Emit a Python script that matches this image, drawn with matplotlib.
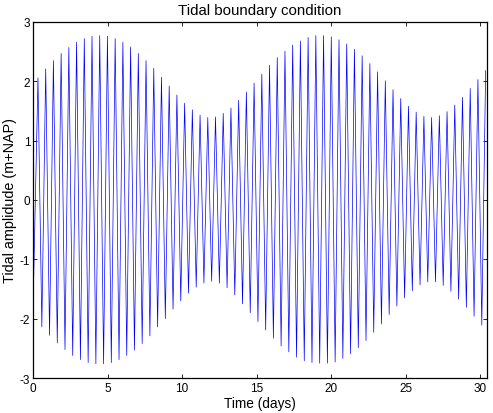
import numpy as np
import matplotlib
matplotlib.use('Agg')
import matplotlib.pyplot as plt

plt.rcParams['font.family'] = ['Liberation Sans', 'DejaVu Sans']
plt.rcParams['axes.unicode_minus'] = False

# tide levels (m+NAP)
start_day = 0.0
start_level = -1.85
first_high_day = 0.335
tidal_period_days = 0.5175

high_water = [2.06, 2.21, 2.35, 2.47, 2.57, 2.66, 2.72, 2.76, 2.77, 2.76,
              2.72, 2.66, 2.58, 2.47, 2.35, 2.22, 2.07, 1.92, 1.77, 1.63,
              1.52, 1.43, 1.39, 1.40, 1.46, 1.55, 1.68, 1.82, 1.97, 2.12,
              2.27, 2.40, 2.51, 2.61, 2.68, 2.74, 2.77, 2.77, 2.75, 2.70,
              2.63, 2.54, 2.43, 2.30, 2.16, 2.01, 1.86, 1.71, 1.58, 1.48,
              1.41, 1.39, 1.42, 1.49, 1.60, 1.73, 1.88, 2.03, 2.18]

low_water = [-2.14, -2.28, -2.41, -2.52, -2.62, -2.69, -2.74, -2.76, -2.76, -2.74,
             -2.69, -2.62, -2.53, -2.42, -2.29, -2.14, -2.00, -1.84, -1.70, -1.57,
             -1.47, -1.40, -1.37, -1.40, -1.48, -1.60, -1.75, -1.90, -2.05, -2.19,
             -2.33, -2.46, -2.56, -2.65, -2.71, -2.74, -2.75, -2.75, -2.73, -2.67,
             -2.59, -2.49, -2.37, -2.23, -2.09, -1.93, -1.79, -1.65, -1.53, -1.43,
             -1.38, -1.38, -1.44, -1.54, -1.67, -1.81, -1.96, -2.11]

x_ticks = [0, 5, 10, 15, 20, 25, 30]
y_ticks = [-3, -2, -1, 0, 1, 2, 3]


def build_series():
  highs = np.array(high_water)
  lows = np.array(low_water)
  t_high = first_high_day + tidal_period_days * np.arange(len(highs))
  t_low = t_high[:len(lows)] + tidal_period_days / 2
  t = np.empty(len(highs) + len(lows))
  h = np.empty_like(t)
  t[0::2], h[0::2] = t_high, highs
  t[1::2], h[1::2] = t_low, lows
  return np.concatenate([[start_day], t]), np.concatenate([[start_level], h])


def plot(t, h):
  fig = plt.figure(figsize=(4.93, 4.14), dpi=100)
  ax = fig.add_axes([0.0669, 0.0845, 0.9203, 0.86])
  ax.plot(t, h, color='#0000ff', linewidth=0.5)
  ax.set_xlim(0, 30.42)
  ax.set_ylim(-3, 3)
  ax.set_xticks(x_ticks)
  ax.set_yticks(y_ticks)
  ax.tick_params(direction='in', length=3, width=0.6, labelsize=8.5,
                 top=True, right=True, pad=3, colors='black')
  ax.tick_params(axis='y', pad=2)
  for s in ax.spines.values():
    s.set_linewidth(0.9)
  ax.set_xlabel('Time (days)', fontsize=9.8, labelpad=1)
  ax.set_ylabel('Tidal amplidude (m+NAP)', fontsize=10.4)
  ax.yaxis.set_label_coords(-0.036, 0.5)
  ax.set_title('Tidal boundary condition', fontsize=10.8, pad=6)
  return fig


if __name__ == '__main__':
  t, h = build_series()
  fig = plot(t, h)
  fig.savefig('out.png', dpi=100)
